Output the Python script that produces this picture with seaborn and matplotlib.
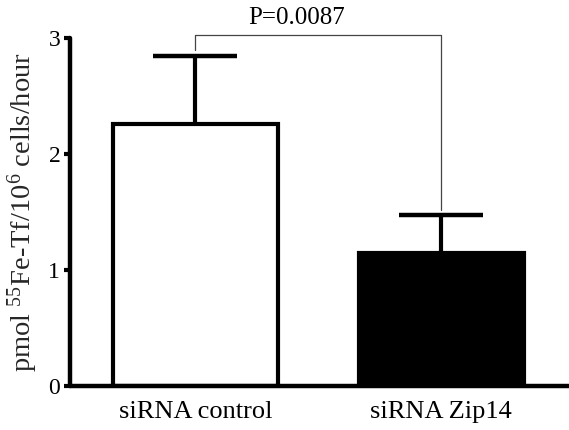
import matplotlib
matplotlib.use("Agg")
import matplotlib.pyplot as plt
import seaborn as sns

# data
groups = ["siRNA control", "siRNA Zip14"]
means = [2.26, 1.15]
sem = [0.59, 0.33]
p_label = "P=0.0087"

sns.set_theme(style="ticks")
plt.rcParams["font.family"] = ["Liberation Serif", "DejaVu Serif"]
plt.rcParams["mathtext.fontset"] = "custom"
plt.rcParams["mathtext.rm"] = "Liberation Serif"
plt.rcParams["mathtext.default"] = "regular"

fig = plt.figure(figsize=(5.69, 4.30), dpi=100)
ax = fig.add_axes([0.123, 0.102, 0.877, 0.809])

sns.barplot(x=groups, y=means, hue=groups, palette=["white", "black"],
            edgecolor="black", linewidth=3, width=0.67, legend=False, ax=ax)

# upward-only error bars
eb = ax.errorbar(range(len(groups)), means, yerr=[[0] * len(sem), sem], fmt="none",
                 ecolor="black", elinewidth=3, capsize=30, capthick=3.2, zorder=1)
eb[1][0].set_visible(False)  # drop the cap sitting on the bar top

ax.set_xlim(-0.51, 1.52)
ax.set_ylim(0, 3)
ax.set_yticks([0, 1, 2, 3])
ax.set_ylabel("pmol $^{55}$Fe-Tf/10$^{6}$ cells/hour", fontsize=20.5, labelpad=6)
ax.set_xlabel("")
ax.tick_params(axis="y", length=4, width=3, labelsize=17, pad=3, color="black", labelcolor="black")
ax.tick_params(axis="x", length=0, labelsize=19, pad=11, labelcolor="black")

for side in ["top", "right"]:
    ax.spines[side].set_visible(False)
for side in ["left", "bottom"]:
    ax.spines[side].set_linewidth(3.2)
    ax.spines[side].set_color("black")
    ax.spines[side].set_capstyle("round")

# significance bracket
top = 3.03
ax.plot([0, 0, 1, 1], [means[0] + sem[0] + 0.05, top, top, means[1] + sem[1] + 0.04],
        color="#444444", linewidth=0.9, clip_on=False)
ax.text(0.41, top + 0.05, p_label, ha="center", va="bottom", fontsize=18, color="black")

plt.savefig("out.png", dpi=100)
